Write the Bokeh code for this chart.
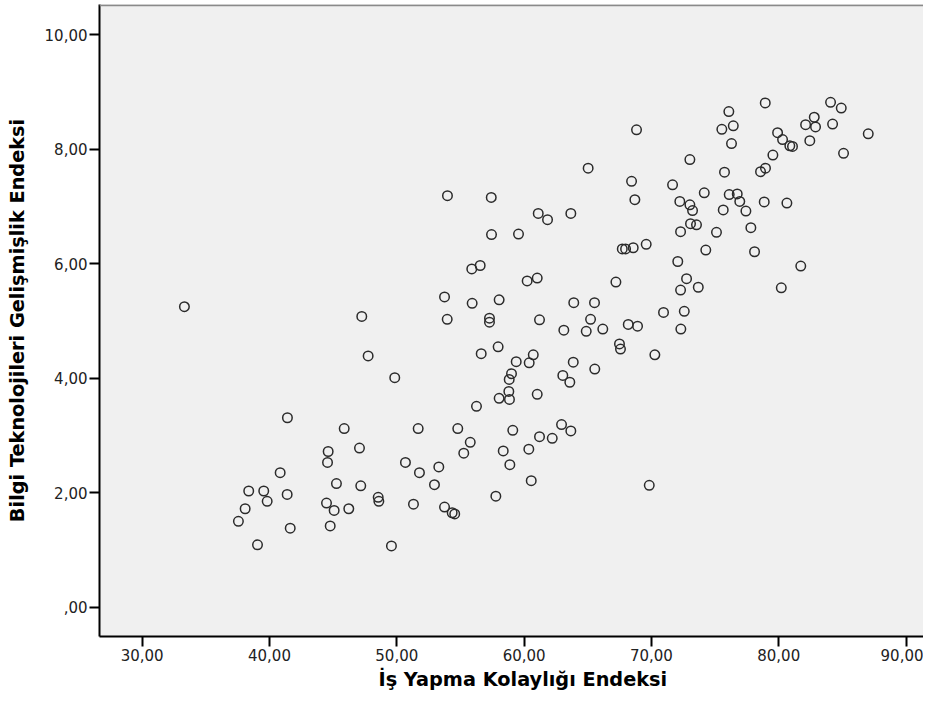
from bokeh.plotting import figure
from bokeh.models import FixedTicker, Range1d, Span, Title
from bokeh.embed import file_html
from bokeh.resources import INLINE

# İş Yapma Kolaylığı Endeksi (x) and Bilgi Teknolojileri Gelişmişlik Endeksi (y)
ease_of_business = [
    33.32, 53.75, 53.96, 47.25, 47.75, 49.84, 41.41, 45.87, 51.68, 54.79,
    55.26, 44.61, 44.56, 47.07, 50.68, 53.30, 51.78, 52.96, 40.84, 38.37,
    39.55, 39.82, 41.39, 38.09, 37.56, 39.06, 41.63, 45.26, 47.17, 48.54,
    48.59, 44.48, 45.08, 46.23, 44.77, 49.58, 51.31, 53.75, 54.35, 54.55,
    53.98, 57.42, 61.11, 61.84, 63.67, 68.44, 71.66, 68.70, 72.23, 73.02,
    73.23, 74.15, 76.11, 76.74, 75.64, 73.07, 73.54, 72.29, 75.11, 74.27,
    67.71, 67.97, 68.57, 69.59, 72.07, 72.76, 72.29, 73.68, 67.21, 70.95,
    72.58, 72.31, 70.27, 67.49, 67.57, 68.18, 68.91, 63.90, 65.53, 65.22,
    64.88, 66.18, 63.12, 63.86, 65.55, 63.04, 63.59, 61.03, 60.72, 60.40,
    59.38, 59.01, 58.83, 58.80, 58.04, 58.85, 57.96, 56.63, 56.26, 61.21,
    57.28, 57.28, 55.92, 58.04, 55.89, 56.55, 60.24, 61.03, 57.44, 59.56,
    55.77, 59.11, 58.36, 58.88, 60.37, 61.21, 62.21, 62.94, 63.67, 60.56,
    57.78, 69.83,
    78.94, 84.07, 84.91, 76.08, 68.83, 75.53, 76.43, 82.79, 82.11, 82.89,
    84.23, 79.91, 80.30, 82.44, 80.87, 81.08, 87.03, 85.09, 76.29, 79.54,
    73.02, 75.74, 78.57, 78.96, 76.94, 77.42, 78.86, 80.64, 77.81, 78.10,
    81.73, 80.20, 65.03,
]
ict_index = [
    5.25, 5.42, 5.03, 5.08, 4.39, 4.01, 3.31, 3.12, 3.12, 3.12,
    2.69, 2.72, 2.53, 2.78, 2.53, 2.45, 2.35, 2.14, 2.35, 2.03,
    2.03, 1.85, 1.97, 1.72, 1.50, 1.09, 1.38, 2.16, 2.12, 1.92,
    1.85, 1.82, 1.69, 1.72, 1.42, 1.07, 1.80, 1.75, 1.65, 1.63,
    7.19, 7.16, 6.88, 6.77, 6.88, 7.44, 7.38, 7.12, 7.09, 7.03,
    6.93, 7.24, 7.21, 7.22, 6.94, 6.70, 6.68, 6.56, 6.55, 6.24,
    6.26, 6.26, 6.28, 6.34, 6.04, 5.74, 5.54, 5.59, 5.68, 5.15,
    5.17, 4.86, 4.41, 4.60, 4.51, 4.94, 4.91, 5.32, 5.32, 5.03,
    4.82, 4.86, 4.84, 4.28, 4.16, 4.05, 3.93, 3.72, 4.41, 4.27,
    4.29, 4.08, 3.98, 3.77, 3.65, 3.63, 4.55, 4.43, 3.51, 5.02,
    5.05, 4.98, 5.31, 5.37, 5.91, 5.97, 5.70, 5.75, 6.51, 6.52,
    2.88, 3.09, 2.73, 2.49, 2.76, 2.98, 2.95, 3.19, 3.08, 2.21,
    1.94, 2.13,
    8.81, 8.82, 8.72, 8.66, 8.34, 8.35, 8.41, 8.56, 8.43, 8.39,
    8.44, 8.29, 8.17, 8.15, 8.06, 8.05, 8.27, 7.93, 8.10, 7.90,
    7.82, 7.60, 7.61, 7.67, 7.09, 6.92, 7.08, 7.06, 6.63, 6.21,
    5.96, 5.58, 7.67,
]
assert len(ease_of_business) == len(ict_index)

x_ticks = [30, 40, 50, 60, 70, 80, 90]
x_tick_labels = ["30,00", "40,00", "50,00", "60,00", "70,00", "80,00", "90,00"]
y_ticks = [0, 2, 4, 6, 8, 10]
y_tick_labels = [",00", "2,00", "4,00", "6,00", "8,00", "10,00"]

x_title = "İş Yapma Kolaylığı Endeksi"
y_title = "Bilgi Teknolojileri Gelişmişlik Endeksi"

Y_TOP = 10.53
p = figure(
    width=923, height=692,
    output_backend="svg", toolbar_location=None,
    x_range=Range1d(26.65, 91.37), y_range=Range1d(-0.512, Y_TOP),
    min_border_left=99, min_border_right=0, min_border_top=4, min_border_bottom=0,
)
p.background_fill_color = "#F0F0F0"
p.border_fill_color = "white"
p.outline_line_color = None
p.xgrid.visible = False
p.ygrid.visible = False

p.add_layout(Span(location=Y_TOP - 0.015, dimension="width",
                  line_color="#8a8a8a", line_width=2))

p.scatter(ease_of_business, ict_index, marker="circle", size=9.5,
          fill_color=None, line_color="#2b2b2b", line_width=1.5)

p.xaxis.ticker = FixedTicker(ticks=x_ticks)
p.xaxis.major_label_overrides = dict(zip(x_ticks, x_tick_labels))
p.yaxis.ticker = FixedTicker(ticks=y_ticks)
p.yaxis.major_label_overrides = dict(zip(y_ticks, y_tick_labels))

for ax in (p.xaxis[0], p.yaxis[0]):
    ax.axis_line_color = "black"
    ax.axis_line_width = 2
    ax.major_tick_line_color = "black"
    ax.major_tick_line_width = 2
    ax.major_tick_out = 10
    ax.major_tick_in = 0
    ax.minor_tick_line_color = None
    ax.major_label_text_font = "DejaVu Sans"
    ax.major_label_text_font_size = "15px"
    ax.major_label_text_color = "#222222"
    ax.axis_label_text_font = "DejaVu Sans"
    ax.axis_label_text_font_style = "bold"
    ax.axis_label_text_font_size = "19.3px"
    ax.axis_label_text_color = "black"

p.yaxis.axis_label = y_title
p.xaxis.major_label_standoff = 2
p.yaxis.major_label_standoff = 2
p.yaxis.axis_label_standoff = 13

# x-axis title as a below-title, left-aligned with an offset like the reference
p.add_layout(Title(text=x_title, align="left", offset=279, standoff=4,
                   text_font="DejaVu Sans", text_font_style="bold",
                   text_font_size="19.3px", text_color="black"), "below")

open("out.html", "w").write(file_html(p, INLINE))
